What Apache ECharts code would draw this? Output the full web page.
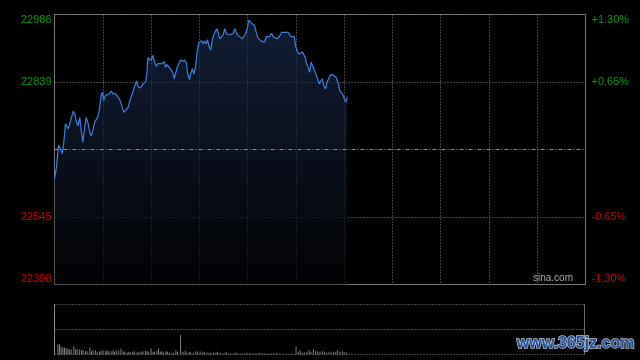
<!DOCTYPE html>
<html><head><meta charset="utf-8">
<script src="https://cdn.jsdelivr.net/npm/echarts@6/dist/echarts.min.js"></script>
<style>html,body{margin:0;padding:0;background:#000}#c{width:640px;height:360px}</style>
</head><body><div id="c"></div>
<script>
const prevClose = 22692;
const priceStep = 147;
const totalMinutes = 330;

const minutes = [
0,1.2,2.5,3.7,4.8,5.8,6.8,7.9,8.5,9.5,
10.6,11.6,12.6,13.7,14.7,15.7,16.6,17.6,18.8,19.7,
20.7,21.9,22.8,23.8,24.9,25.9,26.9,28.0,29.0,29.8,
30.6,31.7,32.8,34.0,35.2,36.5,37.9,39.0,40.4,41.8,
43.1,44.3,45.8,47.2,48.7,49.9,51.0,52.0,53.4,54.5,
55.3,56.6,57.4,58.0,59.0,60.1,61.1,62.2,63.2,64.2,
65.4,66.9,68.2,69.0,70.0,71.0,71.9,72.7,73.5,74.4,
75.2,76.3,77.3,78.3,79.7,81.0,82.0,82.8,83.9,84.7,
85.6,86.6,87.6,88.7,89.7,90.6,91.4,92.2,93.2,94.3,
95.1,96.1,97.1,98.4,99.6,100.9,101.7,102.7,103.8,104.8,
105.8,106.9,108.0,108.9,110.0,111.1,112.1,113.1,114.2,115.4,
116.7,117.6,118.7,119.8,120.8,121.6,122.4,123.2,124.3,125.4,
126.4,127.4,128.5,129.5,130.5,131.6,132.8,133.8,134.9,136.1,
136.9,138.2,139.6,141.1,142.1,143.1,144.2,145.2,146.1,146.9,
147.9,149.0,149.8,150.8,151.8,152.9,154.1,154.9,155.8,156.6,
157.7,158.5,159.5,160.8,162.0,163.3,164.5,165.3,166.4,167.4,
168.4,169.5,170.5,171.5,172.8,174.0,175.1,176.1,177.3,178.6,
179.4,180.2,181.0,181.9
];
const prices = [
22628,22653,22701,22693,22683,22708,22748,22751,22737,22748,
22749,22775,22770,22751,22744,22762,22733,22708,22741,22762,
22751,22730,22722,22733,22751,22757,22762,22781,22810,22817,
22799,22810,22810,22813,22819,22813,22813,22810,22802,22788,
22773,22775,22784,22802,22817,22831,22841,22828,22826,22824,
22836,22839,22857,22892,22890,22886,22897,22882,22873,22879,
22877,22879,22884,22871,22877,22880,22868,22871,22860,22846,
22857,22871,22875,22887,22884,22887,22879,22857,22844,22857,
22868,22857,22871,22905,22925,22921,22929,22922,22929,22922,
22931,22916,22909,22937,22947,22955,22947,22933,22937,22942,
22955,22944,22947,22942,22945,22945,22955,22945,22940,22937,
22933,22937,22944,22955,22974,22973,22967,22964,22962,22947,
22935,22931,22928,22929,22926,22938,22937,22938,22945,22937,
22933,22933,22937,22947,22944,22947,22944,22947,22951,22938,
22942,22938,22918,22906,22900,22904,22904,22908,22893,22879,
22871,22860,22882,22871,22860,22849,22835,22831,22846,22831,
22824,22839,22836,22855,22855,22855,22849,22839,22820,22815,
22810,22802,22795,22806
];

const volMinutes = [
2.1,3.1,4.1,5.2,6.2,7.2,8.3,9.3,10.4,12.0,
13.1,14.1,15.5,16.8,17.8,19.3,20.3,22.0,23.0,24.0,
25.5,26.5,28.0,29.0,30.2,31.7,32.7,33.8,35.2,36.5,
37.5,38.5,40.0,41.4,42.7,43.7,45.2,46.2,47.2,48.7,
49.7,51.4,52.4,53.9,55.1,56.6,57.6,58.6,60.1,61.3,
62.3,63.8,64.8,65.9,66.9,67.9,69.4,70.4,71.7,73.1,
74.1,75.6,76.6,78.5,80.0,81.4,82.5,83.9,84.9,86.6,
88.0,89.1,90.7,92.2,93.2,94.9,96.3,97.4,99.0,100.5,
101.5,103.2,104.6,105.7,106.9,108.3,109.8,111.4,112.9,113.9,
115.6,117.0,118.3,119.8,121.2,122.4,123.9,125.4,126.6,128.0,
129.5,130.7,132.2,133.6,134.9,136.3,137.8,139.0,140.5,142.5,
144.6,146.7,148.3,150.4,151.8,152.9,154.3,155.6,157.1,158.5,
159.7,161.2,162.6,163.9,165.3,166.8,168.0,169.5,170.9,172.2,
173.6,175.1,176.3,177.8,179.2,180.4,181.9
];
const volumes = [
31,31,23,21,21,18,18,15,15,25,
16,16,15,13,13,10,10,21,10,13,
13,8,10,10,13,10,13,10,10,13,
8,13,11,18,10,8,6,8,6,8,
10,6,8,8,10,11,10,8,18,8,
8,11,18,8,10,6,10,8,6,3,
5,13,8,58,8,11,5,8,6,6,
10,8,10,6,8,6,5,5,5,6,
8,5,3,3,8,3,3,3,5,3,
3,3,3,5,3,3,3,3,3,5,
3,3,3,3,3,3,3,3,3,2,
2,2,3,25,8,13,6,6,8,13,
8,15,10,10,8,10,8,6,8,6,
8,8,13,8,10,8,6
];
const volMax = 150;

const GREEN = '#0a9a0a', RED = '#d00000';
const GRID_C = '#8a8a8a', BORDER_C = '#707070';
const DOT = [1, 2];
const FONT = '"Liberation Sans", Arial, sans-serif';

const lineData = minutes.map((m, i) => [m, prices[i] - prevClose]);
const volData = volMinutes.map((m, i) => [m, volumes[i]]);
const span = 2 * priceStep;

const chart = echarts.init(document.getElementById('c'), null, {renderer: 'canvas'});
chart.setOption({
  backgroundColor: '#000',
  animation: false,
  grid: [
    {left: 54.5, right: 54.5, top: 14.5, height: 270, show: true, borderColor: BORDER_C, borderWidth: 1, backgroundColor: 'transparent'},
    {left: 54.5, right: 55.5, top: 304.5, height: 50, show: false}
  ],
  xAxis: [
    {type: 'value', gridIndex: 0, min: 0, max: totalMinutes, interval: 30,
     axisLine: {show: false}, axisTick: {show: false}, axisLabel: {show: false},
     splitLine: {show: true, lineStyle: {color: GRID_C, type: DOT, width: 1}}},
    {type: 'value', gridIndex: 1, min: 0, max: totalMinutes, interval: 30,
     axisLine: {show: false}, axisTick: {show: false}, axisLabel: {show: false},
     splitLine: {show: false}}
  ],
  yAxis: [
    {type: 'value', gridIndex: 0, position: 'left', min: -span, max: span, interval: priceStep,
     axisLine: {show: false, onZero: false}, axisTick: {show: false},
     axisLabel: {margin: 3, fontSize: 11, fontFamily: FONT,
       formatter: v => v === 0 ? '' : String(v + prevClose),
       color: v => Number(v) > 0 ? GREEN : RED,
       verticalAlignMinLabel: 'bottom', verticalAlignMaxLabel: 'top'},
     splitLine: {show: true, lineStyle: {color: [GRID_C, GRID_C, 'rgba(0,0,0,0)', GRID_C, GRID_C], type: DOT, width: 1}}},
    {type: 'value', gridIndex: 0, position: 'right', min: -span, max: span, interval: priceStep,
     axisLine: {show: false, onZero: false}, axisTick: {show: false},
     axisLabel: {margin: 6, fontSize: 11, fontFamily: FONT,
       formatter: v => v === 0 ? '' : (v > 0 ? '+' : '') + (v / prevClose * 100).toFixed(2) + '%',
       color: v => Number(v) > 0 ? GREEN : RED,
       verticalAlignMinLabel: 'bottom', verticalAlignMaxLabel: 'top'},
     splitLine: {show: false}},
    {type: 'value', gridIndex: 1, position: 'left', min: 0, max: volMax, interval: volMax / 2,
     axisLine: {show: true, onZero: false, lineStyle: {color: '#8a8a8a', width: 1}}, axisTick: {show: false},
     axisLabel: {show: false},
     splitLine: {show: true, lineStyle: {color: GRID_C, type: DOT, width: 1}}},
    {type: 'value', gridIndex: 1, position: 'right', min: 0, max: volMax, interval: volMax / 2,
     axisLine: {show: true, onZero: false, lineStyle: {color: BORDER_C, width: 1}}, axisTick: {show: false},
     axisLabel: {show: false}, splitLine: {show: false}}
  ],
  series: [
    {type: 'line', xAxisIndex: 0, yAxisIndex: 0, data: lineData, showSymbol: false, symbol: 'none',
     lineStyle: {color: '#3f7fe0', width: 1.2},
     areaStyle: {origin: 'start', color: new echarts.graphic.LinearGradient(0, 0, 0, 1, [
       {offset: 0, color: '#18284a'}, {offset: 0.5, color: '#0e1729'}, {offset: 1, color: '#020306'}])},
     markLine: {silent: true, symbol: 'none', label: {show: false},
       lineStyle: {color: '#8c8c8c', type: [4, 2, 1, 2], width: 1},
       data: [{yAxis: 0}]},
     z: 3},
    {type: 'bar', xAxisIndex: 1, yAxisIndex: 2, data: volData, barWidth: 1,
     itemStyle: {color: '#808080'}}
  ],
  graphic: [
    {type: 'text', right: 67, top: 273.5, z: 10,
     style: {text: 'sina.com', fill: '#a8a8a8', font: '10px "Liberation Sans", Arial, sans-serif'}},
    {type: 'text', left: 516, top: 335, z: 10,
     style: {text: 'www.365jz.com', fill: '#22529e', stroke: '#b8c2d0', lineWidth: 1.5,
       font: 'bold 16px "Liberation Sans", Arial, sans-serif'}}
  ]
});
</script>
</body></html>
